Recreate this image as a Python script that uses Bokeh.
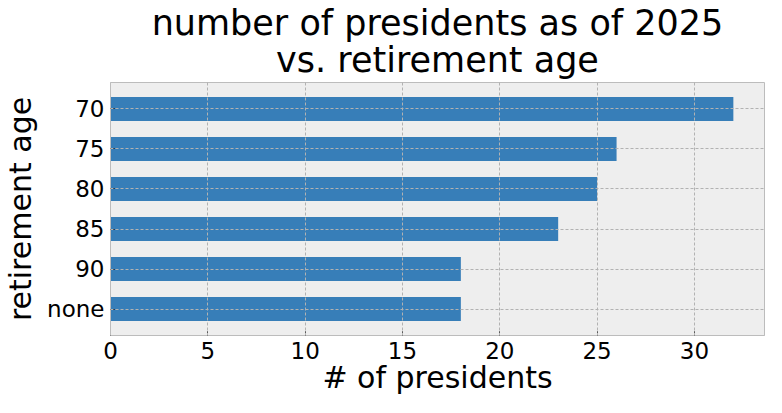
from bokeh.plotting import figure
from bokeh.models import FactorRange, Range1d, FixedTicker, ColumnDataSource, Title
from bokeh.embed import file_html
from bokeh.resources import INLINE

categories = ["70", "75", "80", "85", "90", "none"]
counts = [32, 26, 25, 23, 18, 18]
x_ticks = [0, 5, 10, 15, 20, 25, 30]
title_lines = ["number of presidents as of 2025", "vs. retirement age"]

W, H = 766, 397
BL, BR, BT, BB = 110, 2, 82, 61

src = ColumnDataSource(dict(cat=categories, n=counts))

p = figure(width=W, height=H, output_backend="svg", toolbar_location=None,
           y_range=FactorRange(factors=list(reversed(categories)), range_padding=0.16,
                               range_padding_units="absolute"),
           x_range=Range1d(0, 33.6),
           min_border_left=BL, min_border_right=BR, min_border_top=BT, min_border_bottom=BB)

p.hbar(y="cat", right="n", left=0, height=0.6, source=src, color="#377eb8", line_color=None)

p.background_fill_color = "#eeeeee"
p.border_fill_color = "white"
p.outline_line_color = "#bcbcbc"
p.outline_line_width = 1

# lower line sits next to the frame, upper line overlaps into its empty top part
standoffs = [-17, 6]
for line, so in reversed(list(zip(title_lines, standoffs))):
    p.add_layout(Title(text=line, align="center", text_font="DejaVu Sans",
                       text_font_size="35px", text_font_style="normal",
                       text_color="black", standoff=so), "above")

p.xaxis.ticker = FixedTicker(ticks=x_ticks)
p.xaxis.axis_label = "# of presidents"
p.yaxis.axis_label = "retirement age"

for ax in (p.xaxis, p.yaxis):
    ax.axis_label_text_font = "DejaVu Sans"
    ax.axis_label_text_font_size = "30px"
    ax.axis_label_text_font_style = "normal"
    ax.axis_label_text_color = "black"
    ax.major_label_text_font = "DejaVu Sans"
    ax.major_label_text_font_size = "23px"
    ax.major_label_text_color = "black"
    ax.axis_line_color = "#bcbcbc"
    ax.major_tick_line_color = "black"
    ax.major_tick_in = 4
    ax.major_tick_out = 0
    ax.minor_tick_line_color = None
    ax.major_label_standoff = 6
p.xaxis.axis_label_standoff = -2
p.yaxis.axis_label_standoff = 6

for g in (p.xgrid, p.ygrid):
    g.grid_line_color = "#b2b2b2"
    g.grid_line_dash = "3 2"
    g.grid_line_width = 1
    g.level = "overlay"

open("out.html", "w").write(file_html(p, INLINE))
